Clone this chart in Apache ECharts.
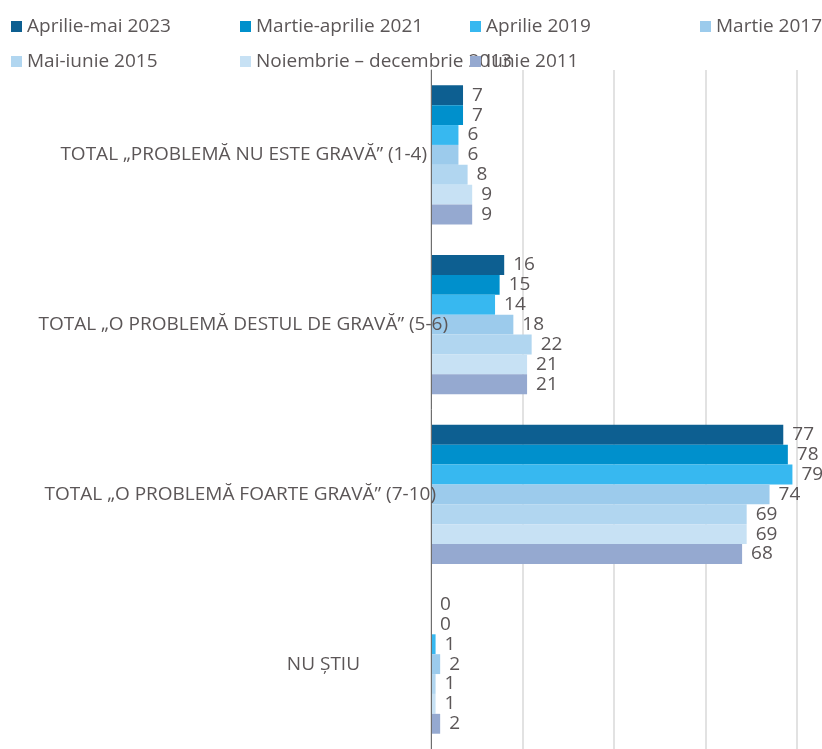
<!DOCTYPE html>
<html>
<head>
<meta charset="utf-8">
<script src="https://cdn.jsdelivr.net/npm/echarts@6/dist/echarts.min.js"></script>
<style>
  html, body { margin: 0; padding: 0; background: #fff; }
  #main { width: 822px; height: 749px; }
</style>
</head>
<body>
<div id="main"></div>
<script>
  const categories = [
    'TOTAL „PROBLEMĂ NU ESTE GRAVĂ” (1-4)',
    'TOTAL „O PROBLEMĂ DESTUL DE GRAVĂ” (5-6)',
    'TOTAL „O PROBLEMĂ FOARTE GRAVĂ” (7-10)',
    'NU ȘTIU'
  ]
  const seriesNames = [
    'Aprilie-mai 2023',
    'Martie-aprilie 2021',
    'Aprilie 2019',
    'Martie 2017',
    'Mai-iunie 2015',
    'Noiembrie – decembrie 2013',
    'Iunie 2011'
  ]
  const values2023 = [7, 16, 77, 0]
  const values2021 = [7, 15, 78, 0]
  const values2019 = [6, 14, 79, 1]
  const values2017 = [6, 18, 74, 2]
  const values2015 = [8, 22, 69, 1]
  const values2013 = [9, 21, 69, 1]
  const values2011 = [9, 21, 68, 2]
  const allValues = [values2023, values2021, values2019, values2017, values2015, values2013, values2011]

  const colorList = ['#0d5f91', '#0090cc', '#37b8f0', '#9ccbec', '#b1d6f0', '#c7e1f4', '#95a9d0']
  const textColor = '#5b5657'
  const fontFamily = '"Open Sans", sans-serif'
  const fontSize = 19

  // legend placed like the original: two rows with fixed columns
  const legendPos = [
    [11, 17], [240, 17], [470, 17], [700, 17],
    [11, 52], [240, 52], [470, 52]
  ]
  const legends = seriesNames.map((name, i) => ({
    data: [name],
    left: legendPos[i][0],
    top: legendPos[i][1],
    icon: 'rect',
    itemWidth: 11,
    itemHeight: 11,
    padding: 0,
    textStyle: { color: textColor, fontSize: fontSize, fontFamily: fontFamily }
  }))

  // per-category right padding so labels sit where the original had them
  const labelPad = [21, 0, 12, 88]
  const richStyles = {}
  labelPad.forEach((p, i) => {
    richStyles['c' + i] = {
      color: textColor,
      fontSize: fontSize,
      fontFamily: fontFamily,
      padding: [0, p, 0, 0]
    }
  })

  const chart = echarts.init(document.getElementById('main'))
  chart.setOption({
    animation: false,
    color: colorList,
    legend: legends,
    grid: {
      left: 431,
      right: 25,
      top: 70,
      height: 687,
      containLabel: false
    },
    xAxis: {
      type: 'value',
      min: 0,
      max: 80,
      interval: 20,
      axisLabel: { show: false },
      axisLine: { show: false },
      axisTick: { show: false },
      splitLine: { lineStyle: { color: '#d9d9d9', width: 1.5 } }
    },
    yAxis: {
      type: 'category',
      inverse: true,
      data: categories,
      z: 10,
      axisTick: { show: false },
      axisLine: { lineStyle: { color: '#6e6e6e' } },
      axisLabel: {
        margin: -17,
        align: 'right',
        overflow: 'none',
        hideOverlap: false,
        formatter: function (value, idx) {
          return '{c' + idx + '|' + value + '}'
        },
        rich: richStyles
      }
    },
    series: seriesNames.map((name, i) => ({
      name: name,
      type: 'bar',
      data: allValues[i],
      barGap: '0%',
      barCategoryGap: '18%',
      label: {
        show: true,
        position: 'right',
        distance: 9,
        color: textColor,
        fontSize: fontSize,
        fontFamily: fontFamily
      }
    }))
  })
</script>
</body>
</html>
